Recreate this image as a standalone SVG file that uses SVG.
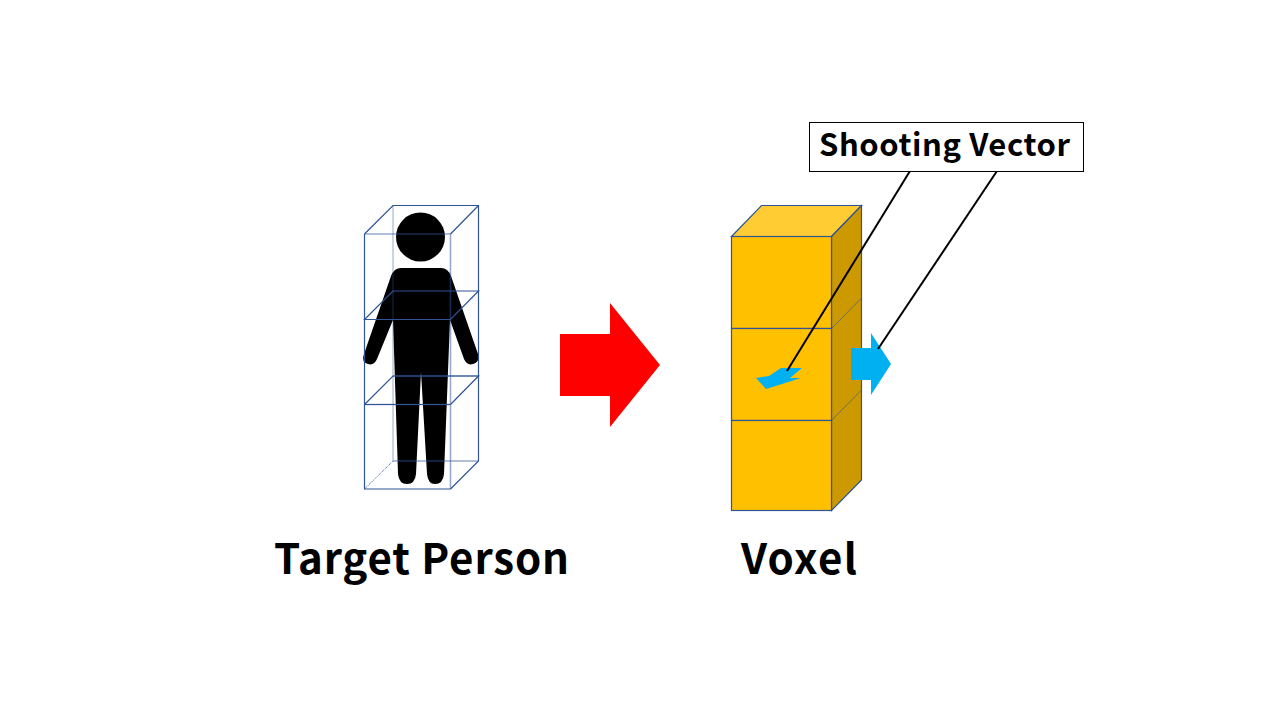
<svg xmlns="http://www.w3.org/2000/svg" width="1280" height="720" viewBox="0 0 1280 720">
<style>
.lbl{font-family:"Noto Sans CJK JP","Noto Sans",sans-serif;font-weight:700;fill:#000}
.e{fill:none;stroke:#2f5597;stroke-width:1.2}
.f{fill:none;stroke:#2f5597;stroke-width:1.6;opacity:.5}
.v{stroke:#2f5597;stroke-width:1.2}
.c{fill:none;stroke:#000;stroke-width:2}
</style>
<rect width="1280" height="720" fill="#fff"/>
<g id="person">
<circle cx="420.500" cy="237" r="24.500" fill="#000"/>
<path d="M401 268H441Q448 268 451 276L478 354Q480 362 473 364Q467 366 464 359L450 320L444 474Q443 484 435 484Q428 484 427 474L421 372L416 474Q415 484 407 484Q399 484 398 474L393 320L377 359Q374 366 368 364Q361 362 364 354L391 276Q394 268 401 268Z" fill="#000"/>
</g>
<g id="person-box">
<path class="e" d="M364.500 234V489H450.500M364.500 234L393 205.500H478.500V461L450.500 489M478.500 205.500L450.500 234"/>
<path class="f" d="M364.500 234H450.500V489"/>
<path class="e" d="M364.500 319.500L393 291H478.500L450.500 319.500H364.500Z"/>
<path class="e" d="M364.500 404.500L393 376H478.500L450.500 404.500"/>
<path class="f" d="M364.500 404.500H450.500M393 376H478.500"/>
<path class="e" d="M364.500 404.500H450.500"/>
<path class="f" d="M393 461H478.500"/>
<path d="M393 205.500V461L364.500 489" fill="none" stroke="#2f5597" stroke-width="1" stroke-dasharray="1 1"/>
</g>
<g id="big-arrow"><path d="M560 334H610V303L660 365L610 427V396H560Z" fill="#ff0000"/></g>
<g id="voxel">
<path class="v" d="M731.500 236.500L761.500 205.500H861.500L831.500 236.500Z" fill="#ffcd33"/>
<path class="v" d="M831.500 236.500L861.500 205.500V480L831.500 510.500Z" fill="#cc9900"/>
<path d="M831.500 328.500L861.500 298M831.500 420.500L861.500 390" fill="none" stroke="#2f5597" stroke-width="1" opacity=".6"/>
<rect class="v" x="731.500" y="236.500" width="100" height="92" fill="#ffc000"/>
<rect class="v" x="731.500" y="328.500" width="100" height="92" fill="#ffc000"/>
<rect class="v" x="731.500" y="420.500" width="100" height="90" fill="#ffc000"/>
</g>
<g id="vector-3d"><path d="M756 378L769 376L781 368H802L790 378L801 378L766 389Z" fill="#00b0f0"/></g>
<g id="blue-arrow"><path d="M851 348H871V333L891 364L871 395V380H851Z" fill="#00b0f0"/></g>
<g id="connectors">
<path class="c" d="M910 171L787 371"/>
<path class="c" d="M997 171L878 349"/>
</g>
<g id="callout">
<rect x="809.500" y="122.500" width="274" height="49" fill="#fff" stroke="#000" stroke-width="1"/>
<text class="lbl" x="819" y="156" font-size="31" textLength="251">Shooting Vector</text>
</g>
<g id="labels">
<text class="lbl" x="274" y="574" font-size="42" textLength="295">Target Person</text>
<text class="lbl" x="741" y="574" font-size="42" textLength="116">Voxel</text>
</g>
</svg>
